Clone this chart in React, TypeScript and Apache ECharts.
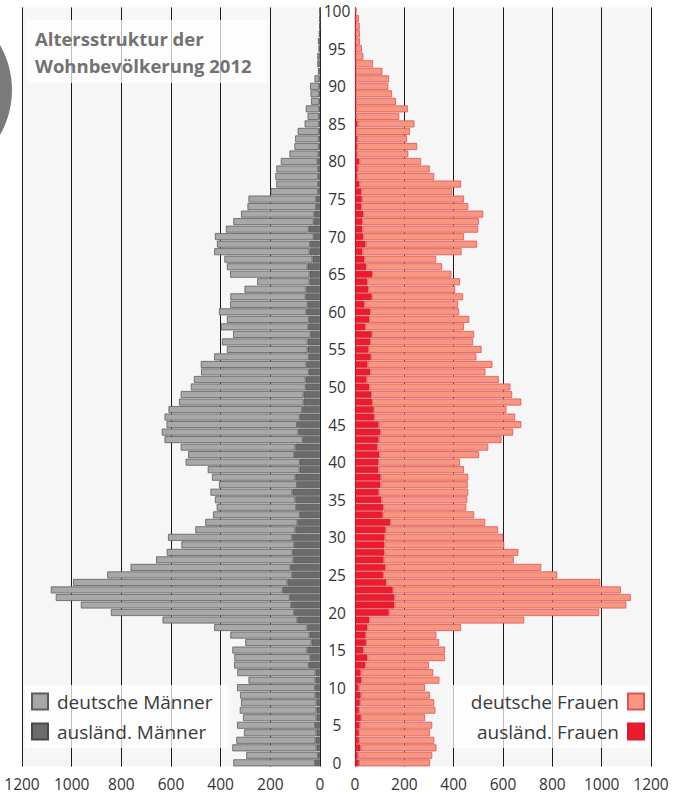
import React, { useEffect, useRef } from "react";
import * as echarts from "echarts";

const ages: string[] = Array.from({ length: 101 }, (_, i) => String(i));

// values per age 0..100
const deutscheMaenner = [
  329, 288, 339, 319, 292, 314, 296, 309, 304, 304,
  314, 270, 315, 301, 306, 302, 267, 319, 375, 543,
  738, 847, 942, 934, 863, 745, 644, 553, 507, 454,
  500, 403, 371, 349, 320, 324, 330, 314, 336, 370,
  459, 427, 462, 557, 550, 525, 544, 538, 502, 495,
  462, 450, 434, 425, 381, 325, 345, 312, 352, 330,
  352, 312, 303, 249, 211, 320, 325, 355, 384, 375,
  397, 334, 323, 295, 276, 272, 191, 168, 172, 168,
  148, 117, 98, 95, 85, 58, 46, 54, 33, 35,
  37, 20, 6, 9, 10, 5, 7, 3, 3, 2,
  1,
];
const auslMaenner = [
  20, 9, 14, 18, 14, 20, 14, 14, 14, 18,
  20, 18, 18, 45, 39, 51, 34, 42, 51, 91,
  104, 116, 122, 150, 131, 112, 119, 107, 110, 104,
  112, 99, 91, 82, 96, 99, 111, 93, 99, 82,
  82, 104, 99, 69, 87, 93, 82, 72, 66, 66,
  58, 58, 45, 55, 45, 50, 50, 38, 47, 45,
  55, 50, 58, 55, 42, 42, 50, 30, 42, 40,
  26, 45, 26, 23, 16, 16, 8, 8, 8, 8,
  10, 6, 5, 5, 5, 4, 4, 3, 3, 3,
  3, 2, 2, 2, 1, 1, 1, 1, 0, 0,
  0,
];
const deutscheFrauen = [
  288, 302, 308, 305, 288, 294, 260, 310, 301, 281,
  269, 316, 294, 258, 315, 331, 296, 287, 380, 628,
  853, 940, 958, 925, 867, 706, 632, 528, 543, 486,
  481, 456, 385, 371, 336, 348, 363, 354, 355, 347,
  331, 404, 449, 498, 538, 578, 571, 538, 604, 571,
  572, 536, 467, 506, 428, 458, 417, 415, 400, 405,
  360, 380, 370, 352, 376, 321, 307, 291, 402, 452,
  408, 469, 472, 486, 433, 414, 368, 412, 312, 292,
  250, 208, 243, 202, 218, 231, 175, 210, 162, 147,
  132, 135, 108, 70, 32, 26, 18, 18, 17, 14,
  2,
];
const auslFrauen = [
  16, 11, 22, 16, 16, 19, 24, 16, 20, 23,
  15, 26, 23, 42, 50, 34, 45, 43, 50, 58,
  137, 160, 160, 153, 127, 114, 123, 116, 119, 119,
  120, 124, 143, 112, 115, 107, 96, 103, 104, 95,
  95, 99, 91, 96, 103, 96, 78, 76, 70, 66,
  58, 47, 62, 51, 64, 55, 62, 68, 42, 58,
  62, 38, 68, 54, 50, 70, 46, 38, 30, 43,
  34, 30, 30, 34, 26, 28, 26, 18, 9, 11,
  18, 8, 9, 9, 5, 10, 4, 4, 4, 3,
  3, 3, 3, 3, 2, 2, 2, 2, 2, 2,
  3,
];

const FONT = "'Open Sans', 'Noto Sans', sans-serif";

export default function App() {
  const ref = useRef<HTMLDivElement>(null);
  useEffect(() => {
    if (!ref.current) return;
    const chart = echarts.init(ref.current, null, { renderer: "svg" });
    const gridTop = 7.4;
    const gridBottom = 28.4;
    const xAxisCommon = {
      type: "value",
      min: 0,
      max: 1200,
      interval: 200,
      axisLine: { show: false },
      axisTick: { show: false },
      splitLine: { show: true, lineStyle: { color: "#1a1a1a", width: 1 } },
      axisLabel: {
        fontSize: 15.5,
        color: "#333",
        fontFamily: FONT,
        margin: 9,
        formatter: (v: number) => String(v),
      },
    };
    const barCommon = {
      type: "bar",
      barCategoryGap: "7%",
    };
    const legendText = {
      fontSize: 19,
      color: "#3a3a3a",
      fontFamily: FONT,
    };
    chart.setOption({
      animation: false,
      backgroundColor: "#ffffff",
      grid: [
        {
          left: 22,
          width: 298,
          top: gridTop,
          bottom: gridBottom,
          show: true,
          backgroundColor: "#f6f6f6",
          borderWidth: 0,
        },
        {
          left: 355,
          width: 296,
          top: gridTop,
          bottom: gridBottom,
          show: true,
          backgroundColor: "#f6f6f6",
          borderWidth: 0,
        },
      ],
      xAxis: [
        { ...xAxisCommon, gridIndex: 0, inverse: true },
        { ...xAxisCommon, gridIndex: 1 },
      ],
      yAxis: [
        {
          type: "category",
          gridIndex: 0,
          data: ages,
          position: "right",
          axisLine: { show: false },
          axisTick: { show: false },
          axisLabel: {
            interval: 4,
            align: "center",
            margin: 17,
            fontSize: 15.5,
            color: "#333",
            fontFamily: FONT,
          },
        },
        {
          type: "category",
          gridIndex: 1,
          data: ages,
          axisLine: { show: false },
          axisTick: { show: false },
          axisLabel: { show: false },
        },
      ],
      legend: [
        {
          data: ["deutsche Männer", "ausländ. Männer"],
          orient: "vertical",
          left: 25,
          top: 685,
          icon: "rect",
          itemWidth: 16,
          itemHeight: 16,
          itemGap: 11,
          padding: [7, 16, 7, 6],
          backgroundColor: "rgba(255,255,255,0.72)",
          selectedMode: false,
          textStyle: { ...legendText, padding: [0, 0, 0, 4] },
        },
        {
          data: ["deutsche Frauen", "ausländ. Frauen"],
          orient: "vertical",
          right: 24,
          top: 685,
          align: "right",
          icon: "rect",
          itemWidth: 16,
          itemHeight: 16,
          itemGap: 11,
          padding: [7, 4, 7, 18],
          backgroundColor: "rgba(255,255,255,0.72)",
          selectedMode: false,
          textStyle: { ...legendText, padding: [0, 4, 0, 0] },
        },
      ],
      graphic: [
        {
          type: "circle",
          shape: { cx: -78, cy: 90, r: 90 },
          style: { fill: "#7a7a7a" },
          z: 10,
        },
        {
          type: "rect",
          shape: { x: 27, y: 20, width: 240, height: 63 },
          style: { fill: "rgba(255,255,255,0.72)" },
          z: 10,
        },
        {
          type: "text",
          x: 35,
          y: 25,
          style: {
            text: "Altersstruktur der\nWohnbevölkerung 2012",
            fontSize: 18.5,
            fontWeight: "bold",
            lineHeight: 27,
            fill: "#727272",
            fontFamily: FONT,
          },
          z: 11,
        },
      ],
      series: [
        {
          ...barCommon,
          name: "ausländ. Männer",
          xAxisIndex: 0,
          yAxisIndex: 0,
          stack: "m",
          data: auslMaenner,
          itemStyle: { color: "#6b6b6b", borderColor: "#4a4a4a", borderWidth: 0.6 },
        },
        {
          ...barCommon,
          name: "deutsche Männer",
          xAxisIndex: 0,
          yAxisIndex: 0,
          stack: "m",
          data: deutscheMaenner,
          itemStyle: { color: "#a8a8aa", borderColor: "#5c5c5c", borderWidth: 0.8 },
        },
        {
          ...barCommon,
          name: "ausländ. Frauen",
          xAxisIndex: 1,
          yAxisIndex: 1,
          stack: "f",
          data: auslFrauen,
          itemStyle: { color: "#ec1c2e", borderColor: "#d4202e", borderWidth: 0.6 },
        },
        {
          ...barCommon,
          name: "deutsche Frauen",
          xAxisIndex: 1,
          yAxisIndex: 1,
          stack: "f",
          data: deutscheFrauen,
          itemStyle: { color: "#f7977f", borderColor: "#e0515a", borderWidth: 0.8 },
        },
      ],
    });
    return () => chart.dispose();
  }, []);
  return <div ref={ref} style={{ width: 673, height: 795, position: "absolute", left: 0, top: 0 }} />;
}
